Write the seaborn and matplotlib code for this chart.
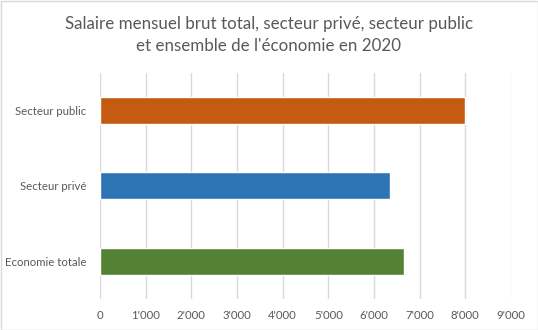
import matplotlib
matplotlib.use("Agg")
import matplotlib.pyplot as plt
import matplotlib.ticker as mticker
from matplotlib.patches import Rectangle
import seaborn as sns
import pandas as pd

categories = ["Secteur public", "Secteur privé", "Economie totale"]
values = [7990, 6350, 6660]
colors = ["#C55A11", "#2E75B6", "#548235"]
xticks = [0, 1000, 2000, 3000, 4000, 5000, 6000, 7000, 8000, 9000]
title = "Salaire mensuel brut total, secteur privé, secteur public\net ensemble de l'économie en 2020"

sns.set_theme(style="white")
plt.rcParams["font.family"] = ["Lato", "DejaVu Sans"]

df = pd.DataFrame({"cat": categories, "val": values})

fig = plt.figure(figsize=(5.38, 3.30), dpi=100)
ax = fig.add_axes([100/538, 1-299/330, 411/538, (299-72.5)/330])

sns.barplot(data=df, x="val", y="cat", hue="cat", order=categories,
            hue_order=categories, palette=colors, width=0.36, ax=ax,
            legend=False, saturation=1)

ax.set_xlim(0, 9000)
ax.set_xticks(xticks)
ax.xaxis.set_major_formatter(mticker.FuncFormatter(lambda v, p: f"{int(v):,}".replace(",", "'")))
ax.grid(axis="x", color="#D9D9D9", linewidth=1)
ax.set_axisbelow(True)
for s in ax.spines.values():
    s.set_visible(False)
ax.set_xlabel("")
ax.set_ylabel("")
ax.tick_params(axis="x", length=0, pad=8, labelsize=8.2, labelcolor="#595959")
ax.tick_params(axis="y", length=0, pad=10, labelsize=8.2, labelcolor="#595959")

fig.text(0.5, 1-35/330, title, ha="center", va="center", fontsize=12.2,
         color="#595959", linespacing=1.45)

fig.patches.append(Rectangle((0.5/538, 0.5/330), 1-1/538, 1-1/330, transform=fig.transFigure,
                             fill=False, edgecolor="#D9D9D9", linewidth=1))

fig.savefig("out.png", dpi=100)
